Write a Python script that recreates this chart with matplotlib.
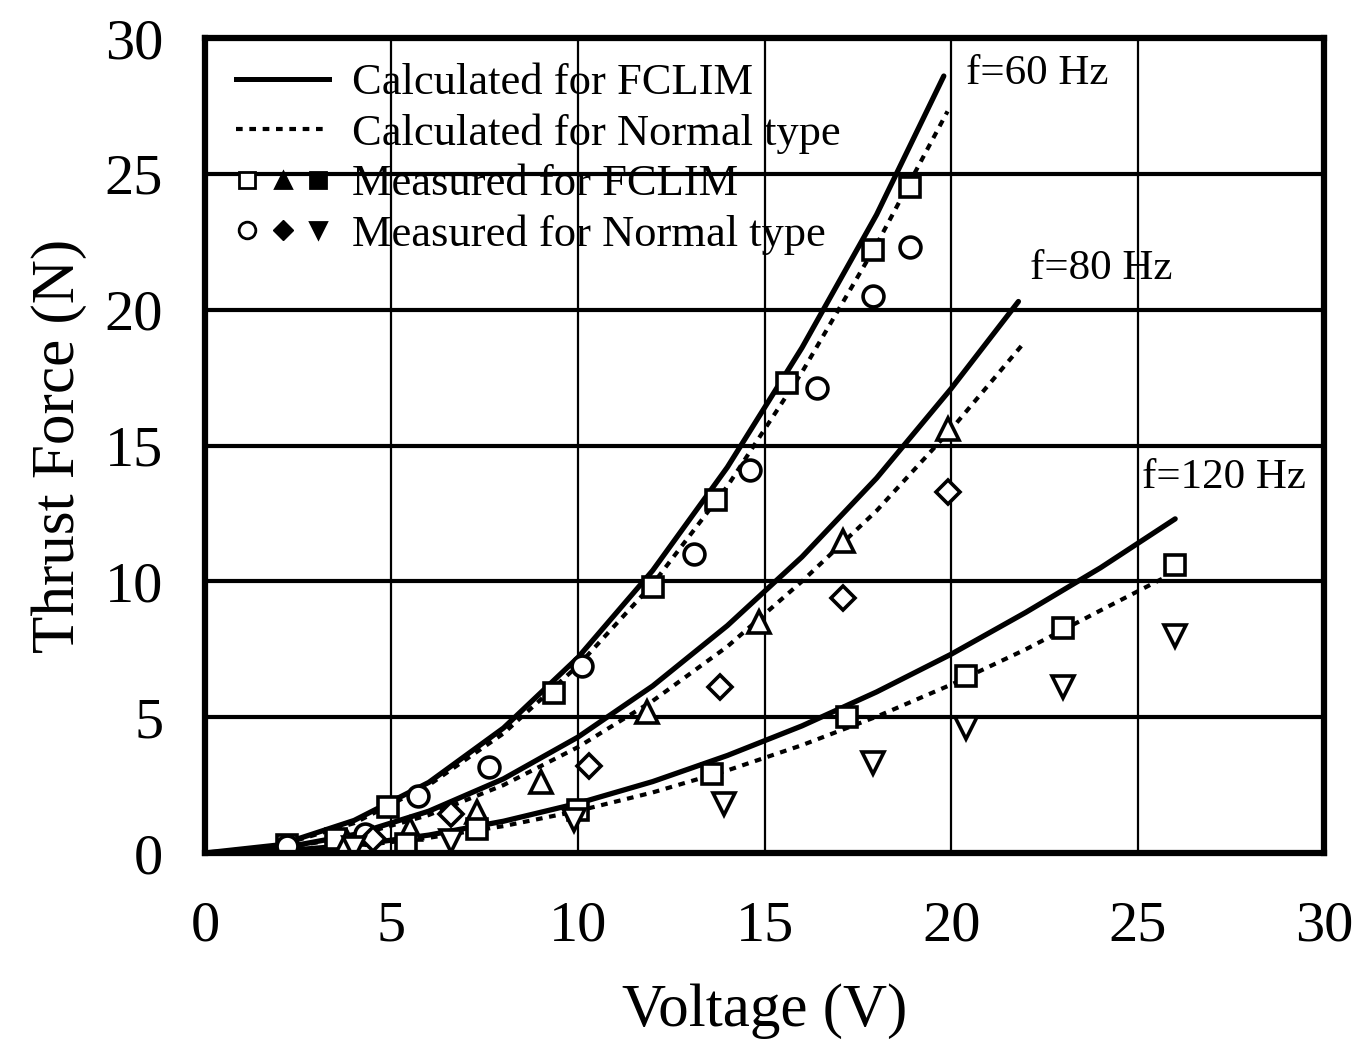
import matplotlib
matplotlib.use("Agg")
import matplotlib.pyplot as plt
from matplotlib.lines import Line2D
from matplotlib.legend_handler import HandlerTuple

plt.rcParams['font.family'] = ['Liberation Serif', 'DejaVu Serif']

# ---- calculated curves ----
v_calc_60 = [0, 2, 4, 6, 8, 10, 12, 14, 16, 18, 19.8]
f_fclim_60 = [0, 0.3, 1.2, 2.6, 4.6, 7.2, 10.4, 14.2, 18.6, 23.5, 28.6]
v_norm_60 = [0, 2, 4, 6, 8, 10, 12, 14, 16, 18, 19.9]
f_norm_60 = [0, 0.28, 1.1, 2.5, 4.4, 6.9, 9.9, 13.5, 17.7, 22.4, 27.3]

v_calc_80 = [0, 2, 4, 6, 8, 10, 12, 14, 16, 18, 20, 21.8]
f_fclim_80 = [0, 0.17, 0.68, 1.54, 2.73, 4.27, 6.15, 8.37, 10.9, 13.8, 17.1, 20.3]
v_norm_80 = [0, 2, 4, 6, 8, 10, 12, 14, 16, 18, 20, 21.9]
f_norm_80 = [0, 0.16, 0.62, 1.4, 2.5, 3.9, 5.6, 7.6, 10.0, 12.6, 15.6, 18.7]

v_calc_120 = [0, 2, 4, 6, 8, 10, 12, 14, 16, 18, 20, 22, 24, 26]
f_fclim_120 = [0, 0.07, 0.29, 0.66, 1.17, 1.83, 2.63, 3.59, 4.68, 5.93, 7.32, 8.86, 10.5, 12.3]
v_norm_120 = [0, 2, 4, 6, 8, 10, 12, 14, 16, 18, 20, 22, 24, 25.8]
f_norm_120 = [0, 0.06, 0.25, 0.56, 0.99, 1.55, 2.23, 3.04, 3.97, 5.02, 6.2, 7.5, 8.93, 10.2]

# ---- measured points ----
v_meas_fclim_60 = [2.2, 3.5, 4.9, 9.35, 12.0, 13.7, 15.6, 17.9, 18.9]
f_meas_fclim_60 = [0.3, 0.5, 1.7, 5.9, 9.8, 13.0, 17.3, 22.2, 24.5]
v_meas_norm_60 = [2.2, 4.3, 5.7, 7.6, 10.1, 13.1, 14.6, 16.4, 17.9, 18.9]
f_meas_norm_60 = [0.25, 0.7, 2.1, 3.15, 6.9, 11.0, 14.1, 17.1, 20.5, 22.3]

v_meas_fclim_80 = [3.8, 5.5, 7.3, 9.0, 11.85, 14.85, 17.1, 19.9]
f_meas_fclim_80 = [0.4, 0.9, 1.5, 2.6, 5.2, 8.5, 11.5, 15.6]
v_meas_norm_80 = [4.5, 6.6, 10.3, 13.8, 17.1, 19.9]
f_meas_norm_80 = [0.5, 1.45, 3.2, 6.1, 9.4, 13.3]

v_meas_fclim_120 = [5.4, 7.3, 10.0, 13.6, 17.2, 20.4, 23.0, 26.0]
f_meas_fclim_120 = [0.35, 0.9, 1.6, 2.9, 5.0, 6.5, 8.3, 10.6]
v_meas_norm_120 = [4.0, 6.6, 9.9, 13.9, 17.9, 20.4, 23.0, 26.0]
f_meas_norm_120 = [0.2, 0.45, 1.2, 1.8, 3.3, 4.6, 6.1, 8.0]

ticks = [0, 5, 10, 15, 20, 25, 30]
legend_labels = ["Calculated for FCLIM", "Calculated for Normal type",
                 "Measured for FCLIM", "Measured for Normal type"]
freq_labels = ["f=60 Hz", "f=80 Hz", "f=120 Hz"]
freq_pos = [(20.4, 28.7), (22.1, 21.5), (25.1, 13.8)]

fig = plt.figure(figsize=(13.57, 10.5), dpi=100)
ax = fig.add_axes([0.151, 0.1876, 0.825, 0.7762])

solid_kw = dict(color='black', lw=3.8, solid_capstyle='round', zorder=4)
dot_kw = dict(color='black', lw=3.0, linestyle=(0, (1.6, 1.6)), zorder=4)
for v, f in [(v_calc_60, f_fclim_60), (v_calc_80, f_fclim_80), (v_calc_120, f_fclim_120)]:
    ax.plot(v, f, **solid_kw)
for v, f in [(v_norm_60, f_norm_60), (v_norm_80, f_norm_80), (v_norm_120, f_norm_120)]:
    ax.plot(v, f, **dot_kw)

mk = dict(linestyle='none', markerfacecolor='white', markeredgecolor='black',
          markeredgewidth=2.6, zorder=5)
ax.plot(v_meas_fclim_60, f_meas_fclim_60, marker='s', markersize=15, **mk)
ax.plot(v_meas_norm_60, f_meas_norm_60, marker='o', markersize=15, **mk)
ax.plot(v_meas_fclim_80, f_meas_fclim_80, marker='^', markersize=16, **mk)
ax.plot(v_meas_norm_80, f_meas_norm_80, marker='D', markersize=12, **mk)
ax.plot(v_meas_fclim_120, f_meas_fclim_120, marker='s', markersize=15, **mk)
ax.plot(v_meas_norm_120, f_meas_norm_120, marker='v', markersize=16, **mk)

for lab, (x, y) in zip(freq_labels, freq_pos):
    ax.text(x, y, lab, fontsize=31, ha='left', va='center', zorder=6)

ax.set_xlim(0, 30)
ax.set_ylim(0, 30)
ax.set_xticks(ticks)
ax.set_yticks(ticks)
ax.set_xticklabels([str(t) for t in ticks])
ax.set_yticklabels([str(t) for t in ticks])
ax.tick_params(axis='x', length=0, pad=34, labelsize=42)
ax.tick_params(axis='y', length=0, pad=30, labelsize=42)
ax.grid(axis='x', color='black', lw=1.6, zorder=1)
ax.grid(axis='y', color='black', lw=3.0, zorder=1)
ax.set_axisbelow(True)
for s in ax.spines.values():
    s.set_linewidth(4.5)
    s.set_zorder(6)

ax.set_xlabel("Voltage (V)", fontsize=44, labelpad=22)
ax.set_ylabel("Thrust Force (N)", fontsize=44, labelpad=13)

# legend
h_solid = Line2D([], [], color='black', lw=3.6)
h_dot = Line2D([], [], color='black', lw=3.0, linestyle=(0, (1.6, 1.6)))
msk = dict(linestyle='none', color='black', markersize=12, markeredgewidth=2)
h_f = (Line2D([], [], marker='s', markerfacecolor='white', **msk),
       Line2D([], [], marker='^', **msk),
       Line2D([], [], marker='s', **msk))
h_n = (Line2D([], [], marker='o', markerfacecolor='white', **msk),
       Line2D([], [], marker='D', markersize=10, linestyle='none', color='black'),
       Line2D([], [], marker='v', **msk))
leg = ax.legend([h_solid, h_dot, h_f, h_n], legend_labels,
                handler_map={tuple: HandlerTuple(ndivide=None, pad=0.3)},
                loc='upper left', bbox_to_anchor=(0.004, 1.002),
                fontsize=32, frameon=False, handlelength=2.1,
                handletextpad=0.5, labelspacing=0.23, borderaxespad=0.2)
leg.set_zorder(7)

fig.savefig("out.png", dpi=100)
